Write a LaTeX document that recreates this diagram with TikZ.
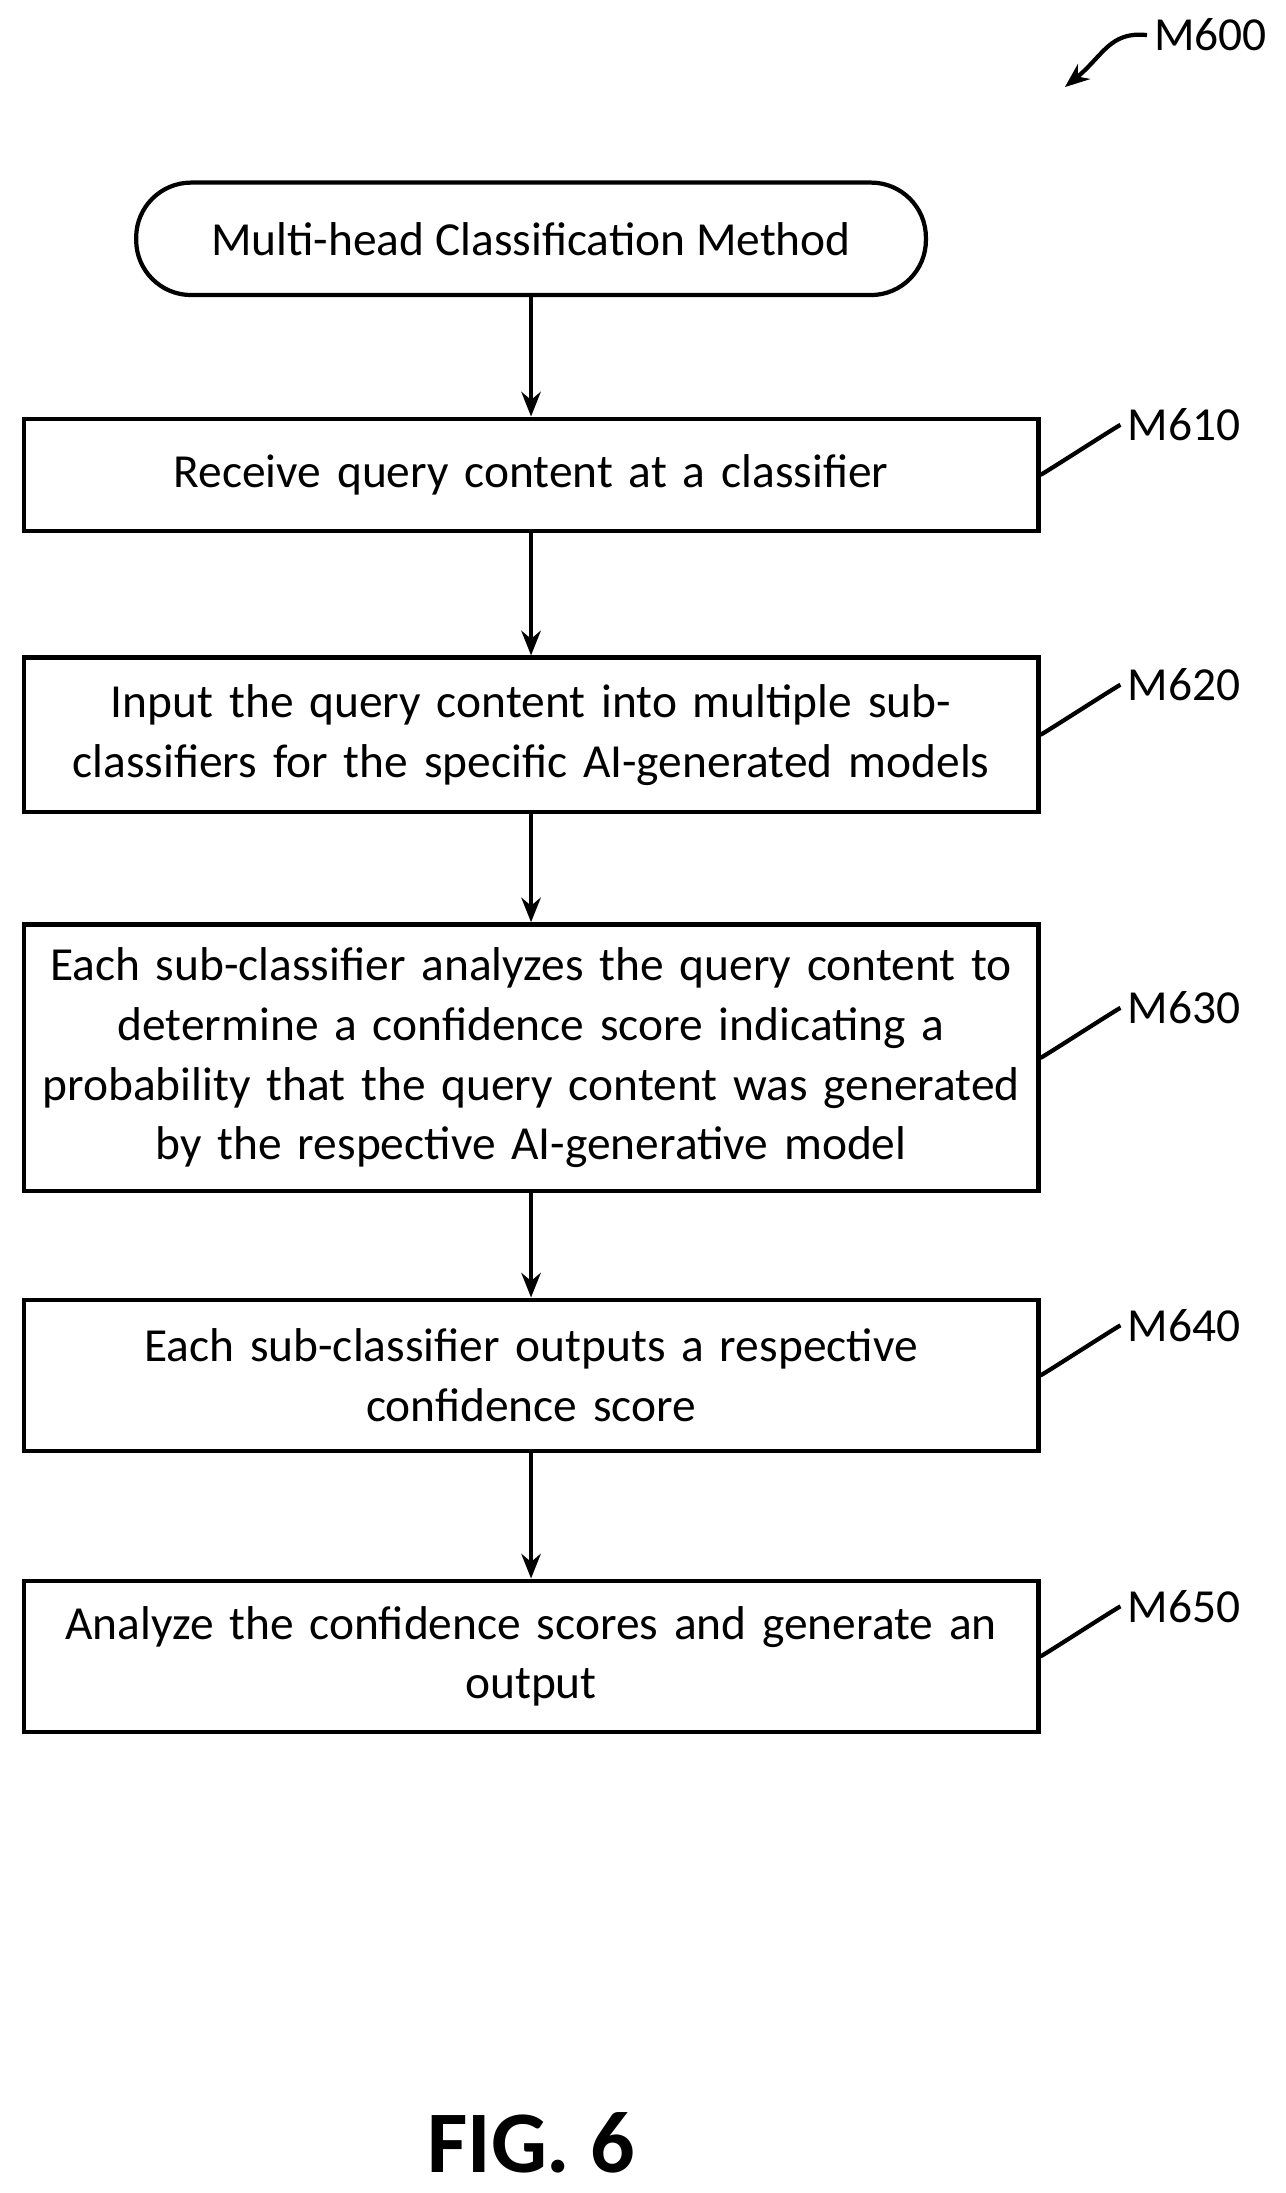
\documentclass[tikz,border=0pt]{standalone}
\usepackage{fontspec}
\setmainfont{Carlito}
\usetikzlibrary{arrows.meta}
\begin{document}
\begin{tikzpicture}[x=0.0281cm,y=-0.0281cm,line width=2.4pt,>={Stealth[length=14pt,width=11pt]},
  every node/.style={font=\fontsize{27}{34}\selectfont},
  step node/.style={rectangle,draw,align=center,minimum width=20.3cm,text width=20cm,inner sep=0pt},
  start node/.style={rectangle,rounded corners=1.1cm,draw,minimum width=15.8cm,minimum height=2.25cm},
  ref label/.style={anchor=west,inner sep=0pt}]
  \useasboundingbox (0,0) rectangle (915,1561);

  \node[start node] (0) at (378,170) {Multi-head Classification Method};
  \node[step node, minimum height=2.25cm] (1) at (378,338) {Receive query content at a classifier};
  \node[step node, minimum height=3.09cm] (2) at (378,523) {Input the query content into multiple sub-\\classifiers for the specific AI-generated models};
  \node[step node, minimum height=5.34cm] (3) at (378,753) {Each sub-classifier analyzes the query content to\\determine a confidence score indicating a\\probability that the query content was generated\\by the respective AI-generative model};
  \node[step node, minimum height=3.03cm] (4) at (378,979) {Each sub-classifier outputs a respective\\confidence score};
  \node[step node, minimum height=3.03cm] (5) at (378,1179) {Analyze the confidence scores and generate an\\output};

  \foreach \a/\b in {0/1,1/2,2/3,3/4,4/5}
    \draw[->] (\a) -- (\b);

  % reference labels
  \foreach \n/\t in {1/M610,2/M620,3/M630,4/M640,5/M650}{
    \node[ref label] (l\n) at ([xshift=1.7cm,yshift=1.0cm]\n.east) {\t};
    \draw (\n.east) .. controls +(0.9,0) and +(-0.9,0) .. ([xshift=-0.1cm]l\n.west);
  }

  \node[ref label] (l0) at (820,25) {M600};
  \draw[->] ([xshift=-0.1cm]l0.west) .. controls (790,22) and (785,40) .. (758,62);

  \node[font=\fontsize{50}{60}\selectfont\bfseries] (fig) at (378,1525) {FIG. 6};
\end{tikzpicture}
\end{document}
